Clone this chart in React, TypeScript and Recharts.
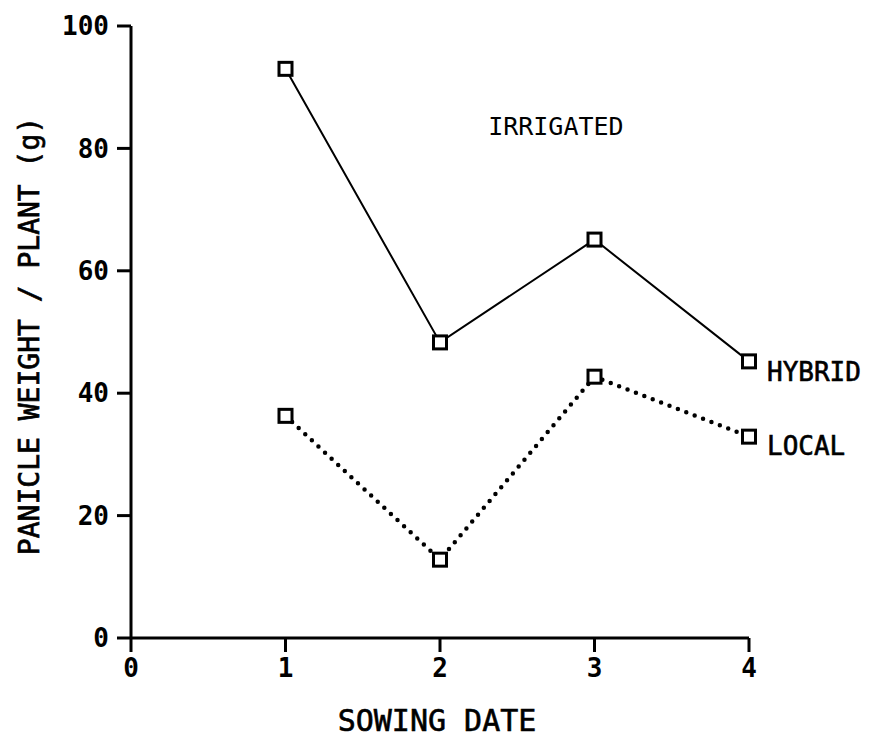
import React from "react";
import {
  LineChart,
  Line,
  XAxis,
  YAxis,
  ReferenceDot,
  Label,
} from "recharts";

// Sowing dates and mean panicle weight per plant (g) under irrigation
const sowingDates = [1, 2, 3, 4];
const hybridWeight = [93, 48.3, 65.1, 45.2];
const localWeight = [36.3, 12.8, 42.7, 32.9];
const xTicks = [0, 1, 2, 3, 4];
const yTicks = [0, 20, 40, 60, 80, 100];

const data = sowingDates.map((d, i) => ({
  date: d,
  hybrid: hybridWeight[i],
  local: localWeight[i],
}));

const FONT = "'DejaVu Sans Mono', monospace";

const SquareDot = (props: any) => {
  const { cx, cy, index, dataKey } = props;
  if (cx == null || cy == null) return null;
  const s = 13;
  return (
    <rect
      key={`${dataKey}-${index}`}
      x={cx - s / 2}
      y={cy - s / 2}
      width={s}
      height={s}
      fill="#fff"
      stroke="#000"
      strokeWidth={3}
    />
  );
};

const endLabel = (text: string, dy: number) => (props: any) => {
  const { x, y, index } = props;
  if (index !== sowingDates.length - 1) return null;
  return (
    <text
      x={x + 18}
      y={y + dy}
      fontFamily={FONT}
      fontSize={26}
      fill="#000"
      stroke="#000"
      strokeWidth={0.6}
      dominantBaseline="central"
    >
      {text}
    </text>
  );
};

const XTitle = (props: any) => {
  const { viewBox } = props;
  const cx = viewBox.x + viewBox.width / 2;
  return (
    <text
      x={cx - 3}
      y={viewBox.y + 82}
      fontFamily={FONT}
      fontSize={30}
      textAnchor="middle"
      dominantBaseline="central"
      fill="#000"
      stroke="#000"
      strokeWidth={0.6}
    >
      SOWING DATE
    </text>
  );
};

const YTitle = (props: any) => {
  const { viewBox } = props;
  const cy = viewBox.y + viewBox.height / 2;
  const x = 29;
  return (
    <text
      x={x}
      y={cy + 4}
      transform={`rotate(-90 ${x} ${cy + 4})`}
      fontFamily={FONT}
      fontSize={28}
      textAnchor="middle"
      dominantBaseline="central"
      fill="#000"
      stroke="#000"
      strokeWidth={0.7}
    >
      PANICLE WEIGHT / PLANT (g)
    </text>
  );
};

export default function App() {
  return (
    <div style={{ position: "absolute", left: 0, top: 0, background: "#fff" }}>
      <LineChart
        width={869}
        height={736}
        data={data}
        margin={{ top: 26, right: 120, bottom: 58, left: 71 }}
      >
        <XAxis
          dataKey="date"
          type="number"
          domain={[0, 4]}
          ticks={xTicks}
          height={40}
          axisLine={{ stroke: "#000", strokeWidth: 3 }}
          tickLine={{ stroke: "#000", strokeWidth: 3 }}
          tickSize={14}
          tickMargin={7}
          tick={{ fill: "#000", fontFamily: FONT, fontSize: 26, fontWeight: 700 }}
        >
          <Label content={XTitle} />
        </XAxis>
        <YAxis
          type="number"
          domain={[0, 100]}
          ticks={yTicks}
          width={60}
          axisLine={{ stroke: "#000", strokeWidth: 3 }}
          tickLine={{ stroke: "#000", strokeWidth: 3 }}
          tickSize={14}
          tickMargin={8}
          tick={{ fill: "#000", fontFamily: FONT, fontSize: 26, fontWeight: 700 }}
        >
          <Label content={YTitle} />
        </YAxis>
        <ReferenceDot
          x={2.75}
          y={83.7}
          r={0}
          stroke="none"
          fill="none"
          label={{
            value: "IRRIGATED",
            position: "center",
            fontFamily: FONT,
            fontSize: 25,
            fill: "#000",
          }}
        />
        <Line
          type="linear"
          dataKey="hybrid"
          stroke="#000"
          strokeWidth={2}
          dot={SquareDot}
          activeDot={false}
          isAnimationActive={false}
          label={endLabel("HYBRID", 11)}
        />
        <Line
          type="linear"
          dataKey="local"
          stroke="#000"
          strokeWidth={4.5}
          strokeDasharray="0 9"
          strokeLinecap="round"
          dot={SquareDot}
          activeDot={false}
          isAnimationActive={false}
          label={endLabel("LOCAL", 9)}
        />
      </LineChart>
    </div>
  );
}
